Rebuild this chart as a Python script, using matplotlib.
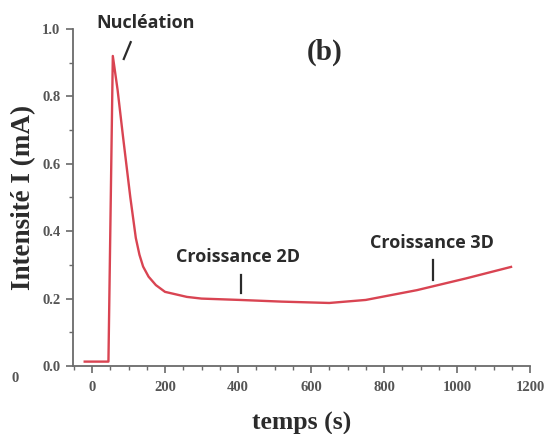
import matplotlib
matplotlib.use("Agg")
import matplotlib.pyplot as plt
from matplotlib.ticker import MultipleLocator

# Chronoamperometric current transient
temps = [-20, 45, 57, 70, 85, 105, 120, 130, 140, 155, 175, 200, 260, 300,
         405, 520, 650, 750, 890, 1025, 1148]
intensite = [0.013, 0.013, 0.92, 0.82, 0.68, 0.50, 0.38, 0.33, 0.295, 0.265,
             0.24, 0.22, 0.205, 0.20, 0.196, 0.191, 0.187, 0.196, 0.225, 0.26,
             0.294]

x_ticks = [0, 200, 400, 600, 800, 1000, 1200]
y_ticks = [0.0, 0.2, 0.4, 0.6, 0.8, 1.0]
y_tick_labels = ["0.0", "0.2", "0.4", "0.6", "0.8", "1.0"]

# Stage annotations: label, label position, marker segment
stages = [
    ("Nucléation", (147, 1.017), ((87, 0.911), (106, 0.961))),
    ("Croissance 2D", (400, 0.323), ((408, 0.217), (408, 0.27))),
    ("Croissance 3D", (932, 0.365), ((935, 0.255), (935, 0.315))),
]

line_color = "#d94452"
axis_color = "#6a6a6a"
text_color = "#2b2b2b"

fig = plt.figure(figsize=(5.45, 4.34), dpi=100)
ax = fig.add_axes([0.134, 0.1567, 0.8385, 0.7765])

ax.plot(temps, intensite, color=line_color, lw=1.7, solid_joinstyle="round")

ax.set_xlim(-52, 1200)
ax.set_ylim(0, 1.0)
ax.set_xticks(x_ticks)
ax.set_yticks(y_ticks)
ax.set_yticklabels(y_tick_labels)
ax.xaxis.set_minor_locator(MultipleLocator(50))
ax.yaxis.set_minor_locator(MultipleLocator(0.1))

for s in ("top", "right"):
    ax.spines[s].set_visible(False)
for s in ("left", "bottom"):
    ax.spines[s].set_color(axis_color)
    ax.spines[s].set_linewidth(1.3)

ax.tick_params(which="major", direction="out", length=5, width=1.2,
               color=axis_color, labelcolor="#555555", pad=4)
ax.tick_params(axis="x", which="major", pad=6)
ax.tick_params(which="minor", direction="out", length=3, width=1.0,
               color=axis_color)
for lab in ax.get_xticklabels() + ax.get_yticklabels():
    lab.set_fontfamily("Liberation Serif")
    lab.set_fontweight("bold")
    lab.set_fontsize(10.5)

ax.set_xlabel("temps (s)", fontfamily="Liberation Serif", fontweight="bold",
              fontsize=18.5, color=text_color)
ax.set_ylabel("Intensité I (mA)", fontfamily="Liberation Serif",
              fontweight="bold", fontsize=19.5, color=text_color)
ax.xaxis.set_label_coords(0.501, -0.135)
ax.yaxis.set_label_coords(-0.08, 0.5)

for label, (tx, ty), ((x0, y0), (x1, y1)) in stages:
    ax.text(tx, ty, label, ha="center", va="center", fontfamily="Open Sans",
            fontweight="bold", fontsize=13, color=text_color, clip_on=False)
    ax.plot([x0, x1], [y0, y1], color=text_color, lw=1.6, clip_on=False)

ax.text(638, 0.932, "(b)", ha="center", va="center",
        fontfamily="Liberation Serif", fontweight="bold", fontsize=21,
        color=text_color)

fig.text(15 / 545, 1 - 378 / 434, "0", ha="center", va="center",
         fontfamily="Liberation Serif", fontweight="bold", fontsize=10.5,
         color="#555555")

fig.savefig("out.png", dpi=100, facecolor="white")
